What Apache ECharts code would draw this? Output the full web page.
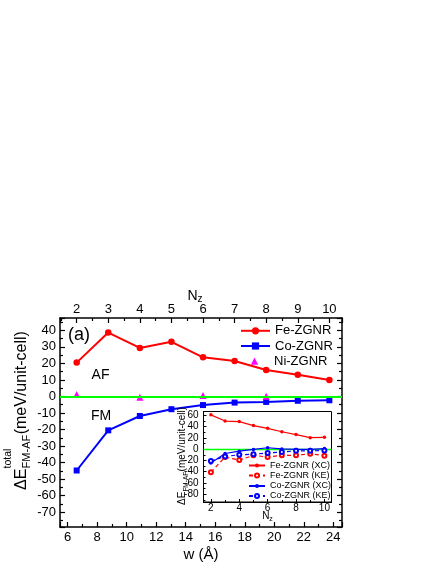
<!DOCTYPE html>
<html><head><meta charset="utf-8">
<script src="https://cdn.jsdelivr.net/npm/echarts@6/dist/echarts.min.js"></script>
<style>html,body{margin:0;padding:0;background:#fff}#c{width:436px;height:564px}</style>
</head><body><div id="c"></div>
<script>
// ---- data ----
const nz = [2, 3, 4, 5, 6, 7, 8, 9, 10];
const feMain = [20.5, 38.7, 29.4, 33.1, 23.7, 21.5, 16.0, 13.2, 10.0];
const coMain = [-44.8, -20.5, -11.8, -7.7, -5.2, -3.7, -3.3, -2.6, -2.3];
const niNz = [2, 4, 6, 8];
const niMain = [1.2, -0.4, 0.6, 0.2];
const feXC = [61, 50, 49, 42, 37, 31, 26, 20.5, 21];
const feKE = [-41, -14, -19.5, -11, -14, -11, -11, -8, -11.5];
const coXC = [-24.5, -7.7, -3.5, -0.5, 2.5, 0.5, -0.5, -0.5, 1];
const coKE = [-21, -13, -10, -9, -7, -5, -3, -3, -2.5];
const mainNames = ['Fe-ZGNR', 'Co-ZGNR', 'Ni-ZGNR'];
const insetNames = ['Fe-ZGNR (XC)', 'Fe-ZGNR (KE)', 'Co-ZGNR (XC)', 'Co-ZGNR (KE)'];

const F = "'Liberation Sans', Arial, sans-serif";
const RED = '#ff0000', BLUE = '#0000ff', MAG = '#ff00ff', GREEN = '#00ff00';
const pairs = (xs, ys) => xs.map((x, i) => [x, ys[i]]);
const fmtStep = step => v => { const r = v / step; return Math.abs(r - Math.round(r)) < 1e-6 ? String(Math.round(v)) : ''; };

const chart = echarts.init(document.getElementById('c'));

function axisCommon(o) {
  return Object.assign({
    type: 'value',
    splitLine: { show: false },
    axisLine: { show: true, onZero: false, lineStyle: { color: '#000', width: 1.5 } },
    axisTick: { show: true, inside: true, length: 5, lineStyle: { color: '#000', width: 1.2 } },
    minorTick: { show: true, splitNumber: 2, length: 3, lineStyle: { color: '#000', width: 1.2 } },
    nameMoveOverlap: false
  }, o);
}
const lbl = (o) => Object.assign({ color: '#000', fontFamily: F, fontSize: 13 }, o);

const mainLegend = (name, top) => ({
  data: [name], left: 240, top: top, orient: 'vertical', padding: 0, z: 20,
  itemWidth: 29, itemHeight: 9, selectedMode: false,
  textStyle: { color: '#000', fontFamily: F, fontSize: 13, lineHeight: 14 }
});
const insetLegend = (name, top) => ({
  data: [name], left: 248, top: top, orient: 'vertical', padding: 0, z: 20,
  itemWidth: 16, itemHeight: 5, selectedMode: false,
  textStyle: { color: '#000', fontFamily: F, fontSize: 9, lineHeight: 10 }
});

const txt = (text, x, y, size, align) => ({
  type: 'text', x: x, y: y, z: 100,
  style: { text: text, fill: '#000', font: size + 'px ' + F, textAlign: align || 'left', align: align || 'left', textVerticalAlign: 'middle', verticalAlign: 'middle' }
});

const option = {
  animation: false,
  backgroundColor: '#fff',
  grid: [
    { left: 60, top: 318, width: 282, height: 209, show: false },
    { left: 203.5, top: 411.5, width: 128, height: 90.5, show: true, backgroundColor: '#fff', borderColor: '#000', borderWidth: 1 }
  ],
  xAxis: [
    axisCommon({
      gridIndex: 0, position: 'bottom', min: 5.48, max: 24.59, splitNumber: 10,
      axisLabel: lbl({ margin: 4, formatter: fmtStep(2) }),
      name: 'w (Å)', nameLocation: 'middle', nameGap: 20,
      nameTextStyle: { color: '#000', fontFamily: F, fontSize: 15 }
    }),
    axisCommon({
      gridIndex: 0, position: 'top', min: 1.472, max: 10.40, splitNumber: 9,
      axisLabel: lbl({ margin: 2, formatter: fmtStep(1) }),
      name: '{n|N}{s|z}', nameLocation: 'middle', nameGap: 9,
      nameTextStyle: {
        color: '#000', fontFamily: F, padding: [0, 12, 0, 0],
        rich: {
          n: { fontSize: 14, lineHeight: 14, verticalAlign: 'top', fontFamily: F, color: '#000' },
          s: { fontSize: 10, lineHeight: 20, verticalAlign: 'middle', fontFamily: F, color: '#000' }
        }
      }
    }),
    axisCommon({
      gridIndex: 1, position: 'bottom', min: 1.48, max: 10.5, splitNumber: 4,
      axisLine: { show: true, onZero: false, lineStyle: { color: '#000', width: 1 } },
      axisTick: { show: true, inside: true, length: 3, lineStyle: { color: '#000', width: 1 } },
      minorTick: { show: true, splitNumber: 2, length: 2, lineStyle: { color: '#000', width: 1 } },
      axisLabel: lbl({ margin: 1, fontSize: 10, formatter: fmtStep(2) }),
      name: '{n|N}{s|z}', nameLocation: 'middle', nameGap: 9.6,
      nameTextStyle: {
        color: '#000', fontFamily: F,
        rich: {
          n: { fontSize: 10, lineHeight: 10, verticalAlign: 'top', fontFamily: F, color: '#000' },
          s: { fontSize: 7, lineHeight: 14, verticalAlign: 'middle', fontFamily: F, color: '#000' }
        }
      }
    })
  ],
  yAxis: [
    axisCommon({
      gridIndex: 0, position: 'left', min: -79, max: 47.5, splitNumber: 13,
      axisLabel: lbl({ margin: 4, formatter: fmtStep(10) })
    }),
    axisCommon({
      gridIndex: 0, position: 'right', min: -79, max: 47.5, splitNumber: 13,
      axisLabel: { show: false }
    }),
    axisCommon({
      gridIndex: 1, position: 'left', min: -94, max: 67, splitNumber: 8,
      axisLine: { show: true, onZero: false, lineStyle: { color: '#000', width: 1 } },
      axisTick: { show: true, inside: true, length: 3, lineStyle: { color: '#000', width: 1 } },
      minorTick: { show: true, splitNumber: 2, length: 2, lineStyle: { color: '#000', width: 1 } },
      axisLabel: lbl({ margin: 5, fontSize: 10, formatter: fmtStep(20) })
    })
  ],
  legend: [
    mainLegend(mainNames[0], 323.8),
    mainLegend(mainNames[1], 339),
    mainLegend(mainNames[2], 354.2),
    insetLegend(insetNames[0], 460.5),
    insetLegend(insetNames[1], 470.5),
    insetLegend(insetNames[2], 481),
    insetLegend(insetNames[3], 491)
  ],
  series: [
    {
      type: 'line', name: mainNames[0], xAxisIndex: 1, yAxisIndex: 0,
      data: pairs(nz, feMain), symbol: 'circle', symbolSize: 6.5,
      lineStyle: { color: RED, width: 2 }, itemStyle: { color: RED },
      markLine: {
        silent: true, symbol: 'none', label: { show: false },
        lineStyle: { color: GREEN, width: 2, type: 'solid' },
        data: [{ yAxis: 0 }]
      }
    },
    {
      type: 'line', name: mainNames[1], xAxisIndex: 1, yAxisIndex: 0,
      data: pairs(nz, coMain), symbol: 'rect', symbolSize: 6,
      lineStyle: { color: BLUE, width: 2 }, itemStyle: { color: BLUE }
    },
    {
      type: 'line', name: mainNames[2], xAxisIndex: 1, yAxisIndex: 0,
      data: pairs(niNz, niMain), symbol: 'triangle', symbolSize: 7,
      lineStyle: { color: MAG, width: 0, opacity: 0 }, itemStyle: { color: MAG }
    },
    {
      type: 'line', name: insetNames[0], xAxisIndex: 2, yAxisIndex: 2, z: 10,
      data: pairs(nz, feXC), symbol: 'circle', symbolSize: 3.5,
      lineStyle: { color: RED, width: 1.2 }, itemStyle: { color: RED },
      markLine: {
        silent: true, symbol: 'none', label: { show: false },
        lineStyle: { color: GREEN, width: 1.3, type: 'solid' },
        data: [{ yAxis: 0 }]
      }
    },
    {
      type: 'line', name: insetNames[1], xAxisIndex: 2, yAxisIndex: 2, z: 10,
      data: pairs(nz, feKE), symbol: 'emptyCircle', symbolSize: 4,
      lineStyle: { color: RED, width: 1.2, type: [4, 3] },
      itemStyle: { color: RED, borderColor: RED, borderWidth: 0.8 }
    },
    {
      type: 'line', name: insetNames[2], xAxisIndex: 2, yAxisIndex: 2, z: 10,
      data: pairs(nz, coXC), symbol: 'circle', symbolSize: 3.5,
      lineStyle: { color: BLUE, width: 1.2 }, itemStyle: { color: BLUE }
    },
    {
      type: 'line', name: insetNames[3], xAxisIndex: 2, yAxisIndex: 2, z: 10,
      data: pairs(nz, coKE), symbol: 'emptyCircle', symbolSize: 4,
      lineStyle: { color: BLUE, width: 1.2, type: [4, 3] },
      itemStyle: { color: BLUE, borderColor: BLUE, borderWidth: 0.8 }
    }
  ],
  graphic: [
    txt('(a)', 68, 335, 18),
    txt('AF', 100.5, 375.5, 14, 'center'),
    txt('FM', 101, 416, 14, 'center'),
    {
      type: 'group', x: 0, y: 490, rotation: Math.PI / 2, z: 100,
      children: [
        txt('ΔE', 0, 21.4, 16),
        txt('total', 21.6, 8.3, 10.5),
        txt('FM-AF', 21.6, 27.1, 11),
        txt('(meV/unit-cell)', 55.7, 21.4, 16)
      ]
    },
    {
      type: 'group', x: 0, y: 505, rotation: Math.PI / 2, z: 100,
      children: [
        txt('ΔE', 0, 182.3, 10),
        txt('FM-AF', 13.4, 186, 6.5),
        txt('(meV/unit-cell)', 33.6, 182.3, 10)
      ]
    }
  ]
};
chart.setOption(option);
</script>
</body></html>
